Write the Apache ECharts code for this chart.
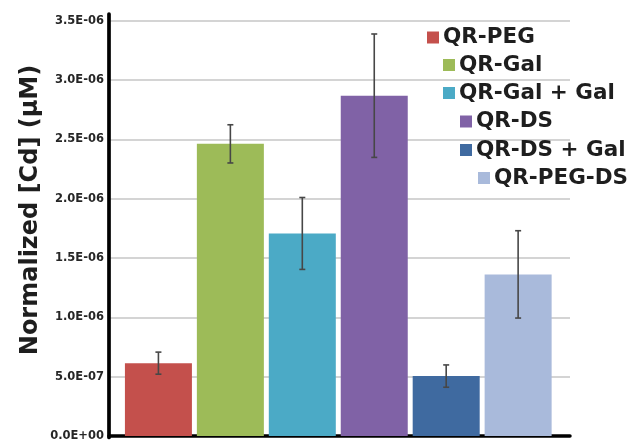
<!DOCTYPE html>
<html>
<head>
<meta charset="utf-8">
<script src="https://cdn.jsdelivr.net/npm/echarts@6/dist/echarts.min.js"></script>
<style>
  html, body { margin: 0; padding: 0; background: #fff; }
  #chart { width: 641px; height: 442px; }
</style>
</head>
<body>
<div id="chart"></div>
<script>
// Sample names, mean normalized Cd concentration (µM) and error (±)
const samples = ['QR-PEG', 'QR-Gal', 'QR-Gal + Gal', 'QR-DS', 'QR-DS + Gal', 'QR-PEG-DS'];
const means   = [6.14e-7, 2.462e-6, 1.707e-6, 2.868e-6, 5.05e-7, 1.362e-6];
const errors  = [9.3e-8, 1.61e-7, 3.03e-7, 5.2e-7, 9.4e-8, 3.68e-7];
const colors  = ['#C4504C', '#9DBB58', '#4BAAC6', '#8062A6', '#3F6AA0', '#A9BADB'];
const yTicks  = { min: 0, max: 3.5e-6, interval: 5e-7 };

// Legend entries are staggered, each one slightly indented from the last
const legendSpots = [
  [427, 38.5], [443, 66], [443, 94], [460, 122.5], [460, 151], [478, 179]
];

function sciLabel(v) {
  const [m, e] = Number(v).toExponential(1).split('e');
  const n = parseInt(e, 10);
  const sign = n < 0 ? '-' : '+';
  const abs = Math.abs(n);
  return m + 'E' + sign + (abs < 10 ? '0' + abs : String(abs));
}

const chart = echarts.init(document.getElementById('chart'), null, { renderer: 'canvas' });

const barSeries = samples.map((name, i) => ({
  name: name,
  type: 'bar',
  stack: 'all',
  barWidth: 67,
  xAxisIndex: 0,
  yAxisIndex: 0,
  itemStyle: { color: colors[i] },
  data: [[i, means[i]]],
  z: 2
}));

const errorSeries = {
  type: 'custom',
  xAxisIndex: 0,
  yAxisIndex: 0,
  z: 5,
  data: samples.map((_, i) => [i, means[i] - errors[i], means[i] + errors[i]]),
  renderItem: function (params, api) {
    const lo = api.coord([api.value(0), api.value(1)]);
    const hi = api.coord([api.value(0), api.value(2)]);
    const cap = 3;
    const style = { stroke: '#474747', lineWidth: 1.6 };
    return {
      type: 'group',
      children: [
        { type: 'line', shape: { x1: lo[0], y1: lo[1], x2: hi[0], y2: hi[1] }, style: style },
        { type: 'line', shape: { x1: hi[0] - cap, y1: hi[1], x2: hi[0] + cap, y2: hi[1] }, style: style },
        { type: 'line', shape: { x1: lo[0] - cap, y1: lo[1], x2: lo[0] + cap, y2: lo[1] }, style: style }
      ]
    };
  }
};

const legends = samples.map((name, i) => ({
  data: [name],
  left: legendSpots[i][0],
  top: legendSpots[i][1] - 12,
  padding: 0,
  itemWidth: 12,
  itemHeight: 12,
  itemGap: 0,
  icon: 'rect',
  selectedMode: false,
  textStyle: {
    fontFamily: 'DejaVu Sans',
    fontWeight: 'bold',
    fontSize: 21.5,
    color: '#1e1e1e',
    padding: [0, 0, 0, -1]
  }
}));

chart.setOption({
  backgroundColor: '#fff',
  animation: false,
  legend: legends,
  grid: [
    { left: 109, right: 71, top: 20.7, bottom: 4.5 },
    { left: 109, right: 71, top: 14, bottom: 4.5 }
  ],
  xAxis: [
    {
      type: 'value', gridIndex: 0, min: -0.687, max: 5.721,
      axisLine: { show: true, onZero: false, lineStyle: { color: '#000', width: 3.5 } },
      axisTick: { show: false }, axisLabel: { show: false }, splitLine: { show: false }
    },
    {
      type: 'value', gridIndex: 1, min: 0, max: 1, show: false
    }
  ],
  yAxis: [
    {
      type: 'value', gridIndex: 0,
      min: yTicks.min, max: yTicks.max, interval: yTicks.interval,
      axisLine: { show: false },
      axisTick: { show: false },
      axisLabel: {
        margin: 5,
        formatter: sciLabel,
        fontFamily: 'DejaVu Sans',
        fontWeight: 'bold',
        fontSize: 11.5,
        color: '#262626'
      },
      splitLine: { show: true, lineStyle: { color: '#c6c6c6', width: 1.5 } }
    },
    {
      type: 'value', gridIndex: 1, min: 0, max: 1,
      axisLine: { show: true, lineStyle: { color: '#000', width: 3.7 } },
      axisTick: { show: false }, axisLabel: { show: false }, splitLine: { show: false }
    }
  ],
  graphic: [
    {
      type: 'text',
      x: 31, y: 210,
      rotation: Math.PI / 2,
      style: {
        text: 'Normalized [Cd] (\u03bcM)',
        fontFamily: 'DejaVu Sans',
        fontWeight: 'bold',
        fontSize: 24,
        fill: '#1e1e1e',
        align: 'center',
        verticalAlign: 'middle'
      }
    }
  ],
  series: [...barSeries, errorSeries]
});
</script>
</body>
</html>
